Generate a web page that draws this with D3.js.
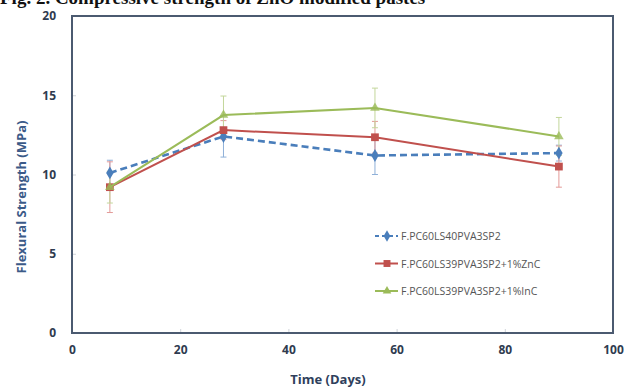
<!DOCTYPE html>
<html>
<head>
<meta charset="utf-8">
<script src="https://cdn.jsdelivr.net/npm/d3@7"></script>
<style>
  body { margin: 0; background: #fff; }
  svg { display: block; }
</style>
</head>
<body>
<div id="drawing_region"></div>
<script>
// values
const days = [7, 28, 56, 90];
const seriesNames = ['F.PC60LS40PVA3SP2', 'F.PC60LS39PVA3SP2+1%ZnC', 'F.PC60LS39PVA3SP2+1%InC'];
const plainValues = [10.1, 12.4, 11.2, 11.35];
const plainErrors = [0.8, 1.3, 1.2, 0.5];
const zncValues = [9.2, 12.8, 12.35, 10.5];
const zncErrors = [1.6, 0.6, 1.0, 1.3];
const incValues = [9.2, 13.75, 14.2, 12.4];
const incErrors = [1.0, 1.2, 1.25, 1.2];
const xTicks = [0, 20, 40, 60, 80, 100];
const yTicks = [0, 5, 10, 15, 20];

const config = {
    parent: '#drawing_region',
    width: 624,
    height: 389,
    margin: {top: 16, right: 11, bottom: 56, left: 72}
};

const series = [
    {name: seriesNames[0], values: plainValues, errors: plainErrors, color: '#4a7ebb', err: '#8fb0d8', dash: '7,4', marker: 'diamond'},
    {name: seriesNames[1], values: zncValues, errors: zncErrors, color: '#c0504d', err: '#e39a98', dash: null, marker: 'square'},
    {name: seriesNames[2], values: incValues, errors: incErrors, color: '#9bbb59', err: '#c3d69b', dash: null, marker: 'triangle'}
];

const svg = d3.select(config.parent)
    .append('svg')
    .attr('width', config.width)
    .attr('height', config.height);

// caption of the figure, cut by the top of the picture
svg.append('text')
    .attr('x', 0)
    .attr('y', 4)
    .attr('font-family', '"Liberation Serif", "DejaVu Serif", serif')
    .attr('font-weight', 'bold')
    .attr('font-size', 19)
    .attr('fill', '#111')
    .text('Fig. 2. Compressive strength of ZnO modified pastes');

const inner_width = config.width - config.margin.left - config.margin.right;
const inner_height = config.height - config.margin.top - config.margin.bottom;

const chart = svg.append('g')
    .attr('transform', `translate(${config.margin.left}, ${config.margin.top})`);

const xscale = d3.scaleLinear().domain([0, 100]).range([0, inner_width]);
const yscale = d3.scaleLinear().domain([0, 20]).range([inner_height, 0]);

// axes
const xaxis_group = chart.append('g')
    .attr('transform', `translate(0, ${inner_height})`)
    .call(d3.axisBottom(xscale).tickValues(xTicks).tickSize(-4).tickPadding(12));
const yaxis_group = chart.append('g')
    .call(d3.axisLeft(yscale).tickValues(yTicks).tickSize(-4).tickPadding(16));

[xaxis_group, yaxis_group].forEach(g => {
    g.select('.domain').remove();
    g.selectAll('.tick line').attr('stroke', '#d0d4da');
    g.selectAll('.tick text')
        .attr('font-family', '"Open Sans", sans-serif')
        .attr('font-weight', 'bold')
        .attr('font-size', 12)
        .attr('fill', '#2f3b4f');
});

// plot frame
chart.append('rect')
    .attr('x', 0)
    .attr('y', 0)
    .attr('width', inner_width)
    .attr('height', inner_height)
    .attr('fill', 'none')
    .attr('stroke', '#4b5a70')
    .attr('stroke-width', 2);

// axis titles
svg.append('text')
    .attr('x', 328)
    .attr('y', 384)
    .attr('text-anchor', 'middle')
    .attr('font-family', '"Open Sans", sans-serif')
    .attr('font-weight', 'bold')
    .attr('font-size', 13)
    .attr('fill', '#2f3f5c')
    .text('Time (Days)');

svg.append('text')
    .attr('transform', 'translate(26, 197) rotate(-90)')
    .attr('text-anchor', 'middle')
    .attr('font-family', '"Open Sans", sans-serif')
    .attr('font-weight', 'bold')
    .attr('font-size', 13)
    .attr('fill', '#3b5a88')
    .text('Flexural Strength (MPa)');

const symbolType = {
    diamond: d3.symbolDiamond,
    square: d3.symbolSquare,
    triangle: d3.symbolTriangle
};
const symbolSize = {diamond: 48, square: 60, triangle: 40};

const line = d3.line()
    .x(d => xscale(d.day))
    .y(d => yscale(d.value));

// error bars
series.forEach(s => {
    const pts = days.map((d, i) => ({day: d, value: s.values[i], err: s.errors[i]}));
    const g = chart.append('g');
    g.selectAll('line.bar')
        .data(pts)
        .join('line')
        .attr('x1', d => xscale(d.day))
        .attr('x2', d => xscale(d.day))
        .attr('y1', d => yscale(d.value - d.err))
        .attr('y2', d => yscale(d.value + d.err))
        .attr('stroke', s.err)
        .attr('stroke-width', 1);
    ['-', '+'].forEach(sign => {
        g.selectAll('line.cap' + (sign === '-' ? 'lo' : 'hi'))
            .data(pts)
            .join('line')
            .attr('x1', d => xscale(d.day) - 3)
            .attr('x2', d => xscale(d.day) + 3)
            .attr('y1', d => yscale(sign === '-' ? d.value - d.err : d.value + d.err))
            .attr('y2', d => yscale(sign === '-' ? d.value - d.err : d.value + d.err))
            .attr('stroke', s.err)
            .attr('stroke-width', 1);
    });
});

// lines and markers
series.forEach(s => {
    const pts = days.map((d, i) => ({day: d, value: s.values[i]}));
    chart.append('path')
        .datum(pts)
        .attr('d', line)
        .attr('fill', 'none')
        .attr('stroke', s.color)
        .attr('stroke-width', s.dash ? 2.6 : 2)
        .attr('stroke-dasharray', s.dash);
    chart.selectAll(null)
        .data(pts)
        .join('path')
        .attr('transform', d => `translate(${xscale(d.day)}, ${yscale(d.value)})`)
        .attr('d', d3.symbol().type(symbolType[s.marker]).size(symbolSize[s.marker]))
        .attr('fill', s.color)
        .attr('fill-opacity', s.marker === 'triangle' ? 0.8 : 1);
});

// legend
const legend = svg.append('g').attr('transform', 'translate(375, 236)');
series.forEach((s, i) => {
    const row = legend.append('g').attr('transform', `translate(0, ${i * 27.5})`);
    row.append('line')
        .attr('x1', 0).attr('x2', 23)
        .attr('y1', 0).attr('y2', 0)
        .attr('stroke', s.color)
        .attr('stroke-width', 2)
        .attr('stroke-dasharray', s.dash ? '4,3' : null);
    row.append('path')
        .attr('transform', 'translate(12, 0)')
        .attr('d', d3.symbol().type(symbolType[s.marker]).size(symbolSize[s.marker] * 0.8))
        .attr('fill', s.color);
    row.append('text')
        .attr('x', 26)
        .attr('y', 4)
        .attr('font-family', '"Open Sans", sans-serif')
        .attr('font-size', 10.5)
        .attr('fill', '#555')
        .text(s.name);
});
</script>
</body>
</html>
